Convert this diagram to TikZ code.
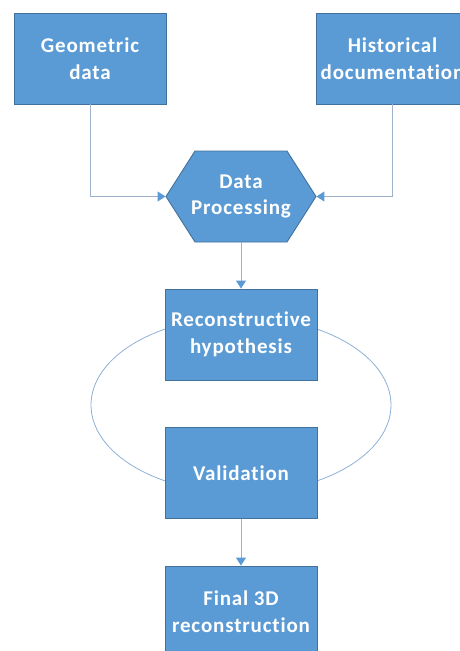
\documentclass[tikz,border=0pt]{standalone}
\usepackage{fontspec}
\setmainfont[Ligatures=NoCommon, LetterSpace=4]{Carlito}
\usetikzlibrary{arrows.meta}
\definecolor{boxfill}{HTML}{5B9BD5}
\definecolor{boxline}{HTML}{41719C}
\definecolor{linkcolor}{HTML}{9DB1CA}
\definecolor{loopcolor}{HTML}{8DB0D6}

\begin{document}
\begin{tikzpicture}[x=1pt, y=-1pt,
    shapeline/.style={draw=boxline, line width=0.9pt, fill=boxfill},
    stage/.style={shapeline, rectangle,
        minimum width=152pt, minimum height=91pt, inner sep=2pt,
        text=white, align=center, font=\fontsize{21}{26.5}\selectfont\bfseries},
    link/.style={draw=linkcolor, line width=1pt,
        -{Triangle[length=8pt, width=10pt, fill=boxfill, color=boxfill]}}]
    \useasboundingbox (0,0) rectangle (460,651);
    \clip (0,0) rectangle (460,651);
    % feedback loop behind the boxes
    \draw[loopcolor, line width=0.8pt] (241,405) ellipse [x radius=150, y radius=88];
    % hexagon outline for the processing step
    \path[shapeline] (166,196.5) -- (195,151) -- (287,151) -- (316,196.5)
        -- (287,242) -- (195,242) -- cycle;
    % boxes
    \node[stage] (geo) at (90,58.5) {Geometric\\data};
    \node[stage] (hist) at (392.5,58.5) {Historical\\documentation};
    \node[stage, draw=none, fill=none, minimum width=150pt] (proc) at (241,196.5) {Data\\Processing};
    \node[stage] (hyp) at (241,334.5) {Reconstructive\\hypothesis};
    \node[stage] (valid) at (241,473) {Validation};
    \node[stage] (final) at (241,611.5) {Final 3D\\reconstruction};
    % connectors
    \draw[link] (geo.south) |- (proc.west);
    \draw[link] (hist.south) |- (proc.east);
    \draw[link] (proc.south) -- (hyp.north);
    \draw[link] (valid.south) -- (final.north);
\end{tikzpicture}
\end{document}
